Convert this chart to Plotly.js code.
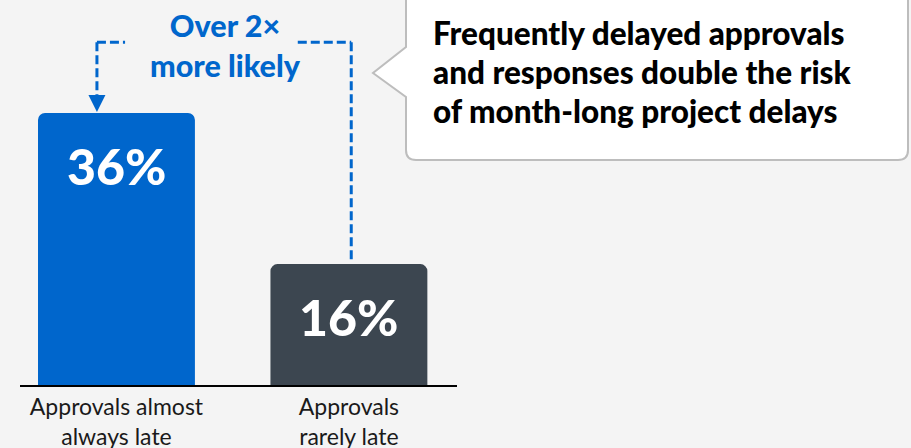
<!DOCTYPE html>
<html>
<head>
<meta charset="utf-8">
<script src="https://cdn.plot.ly/plotly-3.0.1.min.js"></script>
<style>
html,body{margin:0;padding:0;background:#f4f4f4;}
#chart{width:911px;height:448px;}
</style>
</head>
<body>
<div id="chart"></div>
<script>
// ---- data ----
const categories = ["Approvals almost<br>always late", "Approvals<br>rarely late"];
const values = [36, 16];
const valueLabels = ["36%", "16%"];
const barColors = ["#0066cc", "#3c4650"];
const compareText = "Over 2×<br>more likely";
const calloutLines = ["Frequently delayed approvals", "and responses double the risk", "of month-long project delays"];

// ---- layout helpers ----
const W = 911, H = 448;
const M = {l: 20, r: 454, t: 0, b: 63};
const pw = W - M.l - M.r, ph = H - M.t - M.b;
const px = x => (x - M.l) / pw;          // pixel x -> paper
const py = y => (H - M.b - y) / ph;      // pixel y -> paper
const yMax = 50.95;
const xRange = [-0.415, 1.465];

const blue = "#0066cc";
const heavy = "'Lato Black', Lato, sans-serif";
const dash = {color: blue, width: 3, dash: "9px,4px"};

// bracket (in data coords)
const topY = values[0] * 1.26;
const leftX = -0.084, rightX = 1.01;
const shapes = [
  {type: "line", xref: "x", yref: "y", x0: leftX, x1: leftX, y0: topY, y1: values[0] + 2.2, line: dash},
  {type: "line", xref: "x", yref: "y", x0: leftX, x1: 0.037, y0: topY, y1: topY, line: dash},
  {type: "line", xref: "x", yref: "y", x0: 0.78, x1: rightX, y0: topY, y1: topY, line: dash},
  {type: "line", xref: "x", yref: "y", x0: rightX, x1: rightX, y0: topY, y1: values[1] + 0.5, line: dash},
];
// arrow head (pixel-sized, anchored at bar top)
shapes.push({
  type: "path", xref: "x", yref: "y", xsizemode: "pixel", ysizemode: "pixel",
  xanchor: leftX, yanchor: values[0],
  path: "M -8.5 18 L 8.5 18 L 0 1 Z",
  fillcolor: blue, line: {width: 0}
});
// callout box
const bx0 = 406, bx1 = 908, by0 = -20, by1 = 160, r = 10;
const calloutPath =
  `M ${px(bx0)} ${py(by0)} L ${px(bx0)} ${py(47)} L ${px(373)} ${py(73)} L ${px(bx0)} ${py(97)} ` +
  `L ${px(bx0)} ${py(by1 - r)} Q ${px(bx0)} ${py(by1)} ${px(bx0 + r)} ${py(by1)} ` +
  `L ${px(bx1 - r)} ${py(by1)} Q ${px(bx1)} ${py(by1)} ${px(bx1)} ${py(by1 - r)} ` +
  `L ${px(bx1)} ${py(by0)} Z`;
shapes.push({type: "path", xref: "paper", yref: "paper", path: calloutPath,
  fillcolor: "#ffffff", line: {color: "#bdbdbd", width: 2}, layer: "above"});

const annotations = values.map((v, i) => ({
  x: i, y: v, xref: "x", yref: "y", text: valueLabels[i], showarrow: false,
  yshift: -53, font: {family: heavy, size: 50, color: "#ffffff", weight: 900}
}));
annotations.push({
  xref: "paper", yref: "paper", x: px(225), y: py(45.5), text: compareText, showarrow: false,
  xanchor: "center", yanchor: "middle", align: "center",
  font: {family: heavy, size: 30.5, color: blue, weight: 900}
});
const calloutY = [33, 72, 111];
calloutLines.forEach((t, i) => annotations.push({
  xref: "paper", yref: "paper", x: px(431), y: py(calloutY[i]), text: t, showarrow: false,
  xanchor: "left", yanchor: "middle", align: "left",
  font: {family: heavy, size: 31.5, color: "#000000", weight: 900}
}));

const trace = {
  type: "bar", x: [0, 1], y: values,
  marker: {color: barColors, cornerradius: 7, line: {width: 0}},
  hoverinfo: "none"
};

const layout = {
  width: W, height: H, margin: M,
  paper_bgcolor: "#f4f4f4", plot_bgcolor: "#f4f4f4",
  showlegend: false, bargap: 0.325,
  xaxis: {
    range: xRange, tickmode: "array", tickvals: [0, 1], ticktext: categories,
    showgrid: false, zeroline: false, showline: true, linecolor: "#000000", linewidth: 2,
    ticks: "", tickfont: {family: "Lato, sans-serif", size: 23, color: "#1a1a1a"}
  },
  yaxis: {range: [0, yMax], visible: false, showgrid: false, zeroline: false},
  shapes: shapes, annotations: annotations
};

Plotly.newPlot("chart", [trace], layout, {displayModeBar: false, staticPlot: true});
</script>
</body>
</html>
